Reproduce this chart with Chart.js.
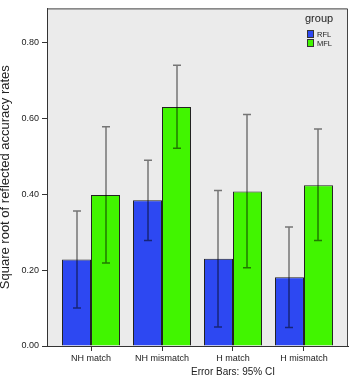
<!DOCTYPE html>
<html lang="en">
<head>
    <meta charset="UTF-8">
    <title>Reflected accuracy rates by group</title>
    <style>
        body { margin: 0; background: #ffffff; }
        canvas { display: block; }
    </style>
</head>
<body>
    <canvas id="accChart" width="350" height="377"></canvas>

    <script src="https://cdn.jsdelivr.net/npm/chart.js"></script>
    <script>
        // values (means and 95% CI bounds)
        const categories = ['NH match', 'NH mismatch', 'H match', 'H mismatch'];
        const yTicks = [0, 0.2, 0.4, 0.6, 0.8];

        const rflMean = [0.228, 0.384, 0.230, 0.181];
        const rflLow  = [0.100, 0.278, 0.050, 0.049];
        const rflHigh = [0.356, 0.490, 0.410, 0.314];

        const mflMean = [0.398, 0.630, 0.407, 0.424];
        const mflLow  = [0.219, 0.521, 0.206, 0.278];
        const mflHigh = [0.578, 0.740, 0.610, 0.572];

        const groups = ['RFL', 'MFL'];
        const colors = ['#2d48f2', '#41f500'];
        const FONT = '"Liberation Sans", Arial, sans-serif';

        // gray plot background + frame
        const frame = {
            id: 'frame',
            beforeDraw(chart) {
                const { ctx, chartArea: a } = chart;
                ctx.save();
                ctx.fillStyle = '#ebebeb';
                ctx.fillRect(a.left, a.top, a.right - a.left, a.bottom - a.top);
                ctx.restore();
            },
            afterDraw(chart) {
                const { ctx, chartArea: a } = chart;
                ctx.save();
                ctx.strokeStyle = '#444';
                ctx.lineWidth = 1;
                ctx.beginPath();
                ctx.moveTo(a.left, a.top + 0.5);
                ctx.lineTo(a.right - 0.5, a.top + 0.5);
                ctx.lineTo(a.right - 0.5, a.bottom);
                ctx.stroke();

                // legend inside plot
                ctx.fillStyle = '#222';
                ctx.font = '11px ' + FONT;
                ctx.textBaseline = 'alphabetic';
                ctx.fillText('group', 305, 22);
                ctx.font = '7.5px ' + FONT;
                ctx.textBaseline = 'middle';
                groups.forEach((g, i) => {
                    const y = 30 + i * 9;
                    ctx.fillStyle = colors[i];
                    ctx.fillRect(307, y, 7, 8);
                    ctx.strokeStyle = '#333';
                    ctx.strokeRect(307.5, y + 0.5, 6, 7);
                    ctx.fillStyle = '#222';
                    ctx.fillText(g, 317, y + 4.5);
                });

                // footnote
                ctx.font = '10px ' + FONT;
                ctx.textAlign = 'center';
                ctx.fillText('Error Bars: 95% CI', 233, 372);
                ctx.restore();
            }
        };

        // 95% CI whiskers
        const whiskers = {
            id: 'whiskers',
            afterDatasetsDraw(chart) {
                const { ctx } = chart;
                const yScale = chart.scales.y;
                const bounds = [[rflLow, rflHigh], [mflLow, mflHigh]];
                ctx.save();
                ctx.strokeStyle = 'rgba(0,0,0,0.5)';
                ctx.lineWidth = 1.5;
                chart.getSortedVisibleDatasetMetas().forEach(meta => {
                    const [lo, hi] = bounds[meta.index];
                    meta.data.forEach((bar, i) => {
                        const x = Math.round(bar.x);
                        const yl = yScale.getPixelForValue(lo[i]);
                        const yh = yScale.getPixelForValue(hi[i]);
                        ctx.beginPath();
                        ctx.moveTo(x, yl); ctx.lineTo(x, yh);
                        ctx.moveTo(x - 4, yl); ctx.lineTo(x + 4, yl);
                        ctx.moveTo(x - 4, yh); ctx.lineTo(x + 4, yh);
                        ctx.stroke();
                    });
                });
                ctx.restore();
            }
        };

        new Chart(document.getElementById('accChart'), {
            type: 'bar',
            data: {
                datasets: [
                    {
                        label: groups[0],
                        data: rflMean.map((v, i) => ({ x: i, y: v })),
                        backgroundColor: colors[0],
                        borderColor: '#222',
                        borderWidth: 1
                    },
                    {
                        label: groups[1],
                        data: mflMean.map((v, i) => ({ x: i, y: v })),
                        backgroundColor: colors[1],
                        borderColor: '#222',
                        borderWidth: 1
                    }
                ]
            },
            options: {
                responsive: false,
                animation: false,
                devicePixelRatio: 1,
                categoryPercentage: 0.817,
                barPercentage: 1,
                layout: { padding: { top: 1, right: 2, left: 0, bottom: 0 } },
                plugins: {
                    legend: { display: false },
                    tooltip: { enabled: false }
                },
                scales: {
                    x: {
                        type: 'linear',
                        min: -0.62,
                        max: 3.62,
                        offset: false,
                        afterBuildTicks: s => { s.ticks = categories.map((c, i) => ({ value: i })); },
                        afterFit: s => { s.height = 31; },
                        grid: { offset: false, drawOnChartArea: false, tickLength: 5, color: '#333' },
                        border: { color: '#333', width: 1 },
                        ticks: {
                            autoSkip: false,
                            maxRotation: 0,
                            padding: 2,
                            color: '#222',
                            font: { family: FONT, size: 9 },
                            callback: v => categories[v]
                        }
                    },
                    y: {
                        min: 0,
                        max: 0.89,
                        afterBuildTicks: s => { s.ticks = yTicks.map(v => ({ value: v })); },
                        afterFit: s => { s.width = 47; },
                        grid: { drawOnChartArea: false, tickLength: 5, color: '#333' },
                        border: { color: '#333', width: 1 },
                        ticks: {
                            padding: 3,
                            color: '#222',
                            font: { family: FONT, size: 9 },
                            callback: v => v.toFixed(2)
                        },
                        title: {
                            display: true,
                            text: 'Square root of reflected accuracy rates',
                            color: '#222',
                            padding: 0,
                            font: { family: FONT, size: 13, lineHeight: 0.9 }
                        }
                    }
                }
            },
            plugins: [frame, whiskers]
        });
    </script>
</body>
</html>
